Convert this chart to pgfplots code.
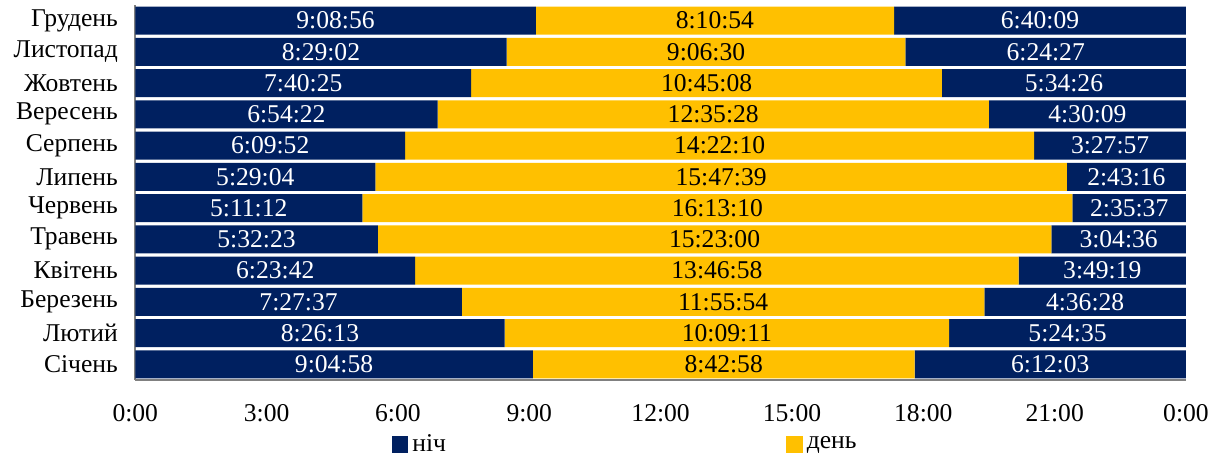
\documentclass[border=0pt]{standalone}
\usepackage{pgfplots}
\usepackage{pgfplotstable}
\pgfplotsset{compat=1.18}
\usepackage{fontspec}
\setmainfont{Liberation Serif}
\definecolor{navy}{HTML}{002060}
\definecolor{gold}{HTML}{FFC000}
\definecolor{axgray}{HTML}{808080}

% y: 0 = Січень ... 11 = Грудень ; values in hours
\pgfplotstableread{
y a la b lb c lc
0 9.0828 9:04:58 8.7161 8:42:58 6.2008 6:12:03
1 8.4369 8:26:13 10.1531 10:09:11 5.4097 5:24:35
2 7.4603 7:27:37 11.9317 11:55:54 4.6078 4:36:28
3 6.3950 6:23:42 13.7828 13:46:58 3.8219 3:49:19
4 5.5397 5:32:23 15.3833 15:23:00 3.0767 3:04:36
5 5.1867 5:11:12 16.2194 16:13:10 2.5936 2:35:37
6 5.4844 5:29:04 15.7942 15:47:39 2.7211 2:43:16
7 6.1644 6:09:52 14.3694 14:22:10 3.4658 3:27:57
8 6.9061 6:54:22 12.5911 12:35:28 4.5025 4:30:09
9 7.6736 7:40:25 10.7522 10:45:08 5.5739 5:34:26
10 8.4839 8:29:02 9.1083 9:06:30 6.4075 6:24:27
11 9.1489 9:08:56 8.1817 8:10:54 6.6692 6:40:09
}\data

\begin{document}
\begin{tikzpicture}
\begin{axis}[
  name=ax,
  scale only axis,
  width=525.5pt, height=187.5pt,
  xbar stacked, bar width=14pt,
  xmin=0, xmax=24, ymin=-0.5, ymax=11.5,
  axis x line*=bottom, axis y line*=left,
  axis line style={axgray, line width=1pt, -},
  major tick length=0pt,
  xtick={0,3,6,9,12,15,18,21,24},
  xticklabels={0:00,3:00,6:00,9:00,12:00,15:00,18:00,21:00,0:00},
  ytick={0,1,2,3,4,5,6,7,8,9,10,11},
  yticklabels={Січень,Лютий,Березень,Квітень,Травень,Червень,Липень,Серпень,Вересень,Жовтень,Листопад,Грудень},
  tick label style={font=\fontsize{12.8}{14}\selectfont},
  xticklabel style={yshift=-9pt},
  yticklabel style={xshift=-5.2pt},
  nodes near coords,
  point meta=explicit symbolic,
  every node near coord/.append style={font=\fontsize{12.8}{14}\selectfont, anchor=center},
  legend columns=2,
  legend style={draw=none, fill=none, inner sep=0pt, font=\fontsize{12.8}{14}\selectfont,
    at={(0.2436,-0.172)}, anchor=west,
    /tikz/every even column/.append style={column sep=168pt}},
  legend image code/.code={\fill[#1] (0pt,-4.2pt) rectangle (8.4pt,4.2pt);},
]
\addplot[fill=navy, draw=none, every node near coord/.append style={text=white}] table[x=a, y=y, meta=la] {\data};
\addplot[fill=gold, draw=none, every node near coord/.append style={text=black}] table[x=b, y=y, meta=lb] {\data};
\addplot[fill=navy, draw=none, every node near coord/.append style={text=white}] table[x=c, y=y, meta=lc] {\data};
\legend{ніч,день}
\end{axis}
\path (current bounding box.west) ++(-3.5pt,0);
\path (current bounding box.east) ++(1.3pt,0);
\path (ax.north) ++(0,2.5pt);
\end{tikzpicture}
\end{document}
